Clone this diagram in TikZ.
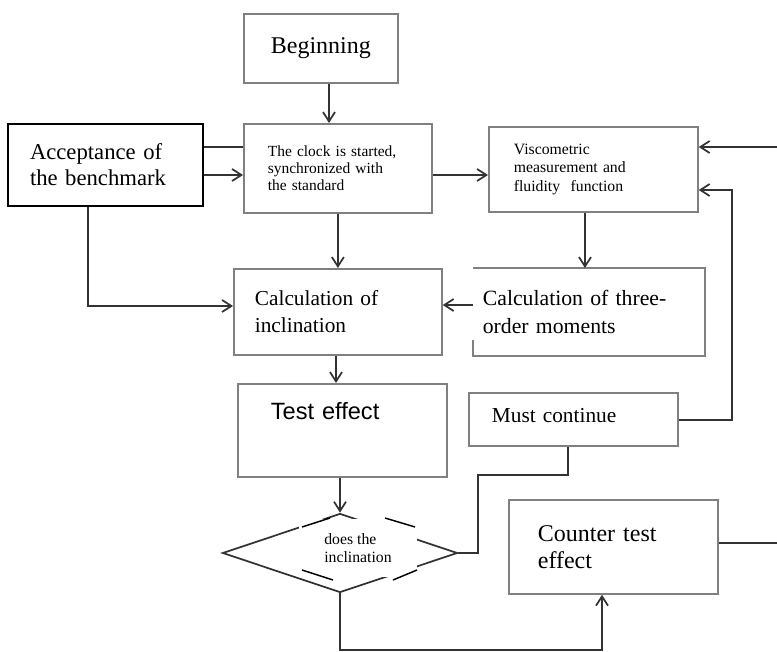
\documentclass[tikz,border=0pt]{standalone}
\usepackage{fontspec}
\setmainfont{Liberation Serif}
\newfontfamily\arialfont{Liberation Sans}
\usetikzlibrary{shapes.geometric, arrows.meta}

\begin{document}
\begin{tikzpicture}[
  x=0.75pt, y=-0.75pt,
  proc_box/.style={rectangle, draw=black!50, line width=1.3pt, fill=white, anchor=north west, align=left, inner ysep=0pt},
  bench_box/.style={proc_box, draw=black, line width=1.5pt},
  decision/.style={diamond, draw=black!80, line width=1.3pt, inner sep=0pt},
  arrow/.style={-{Straight Barb[length=7pt, width=9pt]}, line width=1.3pt, draw=black!80},
  link/.style={line width=1.3pt, draw=black!80}
]
\useasboundingbox (0,0) rectangle (777,652);
\clip (0,0) rectangle (777,652);

% Top row
\node[proc_box, minimum width=115.5pt, minimum height=51.75pt, font=\fontsize{18}{20}\selectfont] (begin) at (243,13) {Beginning};
\node[bench_box, minimum width=146.25pt, minimum height=61.5pt, inner xsep=16.5pt, text width=113.25pt, font=\fontsize{17}{19.5}\selectfont] (bench) at (7,123) {Acceptance of\\the benchmark};
\node[proc_box, minimum width=141pt, minimum height=66.75pt, inner xsep=18pt, text width=105pt, font=\fontsize{11.6}{12.5}\selectfont] (clock) at (243,123) {The clock is started,\\synchronized with\\the standard};
\node[proc_box, minimum width=156.75pt, minimum height=63.75pt, inner xsep=18.75pt, text width=119.25pt, font=\fontsize{11.8}{13.7}\selectfont] (visco) at (488,126) {Viscometric\\measurement and\\fluidity\ \ function};

% Middle row
\node[proc_box, minimum width=156pt, minimum height=64.5pt, inner xsep=15.75pt, text width=124.5pt, font=\fontsize{16}{20}\selectfont] (incl) at (233,268) {Calculation of\\inclination};
\node[proc_box, draw=none, minimum width=172.5pt, minimum height=64.5pt, inner xsep=6.75pt, text width=159pt, font=\fontsize{16.3}{21}\selectfont] (moments) at (473,268) {Calculation of three-\\order moments};
\draw[draw=black!50, line width=1.3pt] ([yshift=12pt]moments.south west) -- (moments.south west) -- (moments.south east) -- (moments.north east) -- (moments.north west);

% Test and decision
\node[proc_box, minimum width=156.75pt, minimum height=69.75pt, inner xsep=24.75pt, text width=107.25pt, text depth=28.5pt, font=\arialfont\fontsize{17.7}{20}\selectfont] (test) at (237,383) {Test effect};
\node[proc_box, minimum width=156.75pt, minimum height=39.75pt, inner xsep=17.25pt, text width=122.25pt, text depth=5.6pt, font=\fontsize{16}{18}\selectfont] (must) at (468,392) {Must continue};
\node[decision, minimum width=176.25pt, minimum height=59.25pt] (dec) at (340,553) {};
\node[fill=white, inner sep=0pt, minimum width=88.5pt, minimum height=43.5pt, align=left, font=\fontsize{11.8}{13}\selectfont] (dectext) at (358,548) {does the\\inclination};
\draw[line width=1.1pt] (302,527) -- (330,518) (385,518) -- (415,527) (302,570) -- (333,580) (393,580) -- (417,570);
\node[proc_box, minimum width=156.75pt, minimum height=70.5pt, inner xsep=21.75pt, text width=113.25pt, font=\fontsize{18}{20}\selectfont] (counter) at (508,499) {Counter test\\effect};

% Arrows
\draw[arrow] (begin.south -| 329,0) -- (clock.north -| 329,0);
\draw[link] (bench.east |- 0,147) -- (clock.west |- 0,147);
\draw[arrow] (bench.east |- 0,175) -- (clock.west |- 0,175);
\draw[arrow] (clock.east |- 0,175) -- (visco.west |- 0,175);
\draw[arrow] (clock.south) -- (incl.north);
\draw[arrow] (bench.south -| 88,0) |- (incl.west |- 0,306);
\draw[arrow] (moments.west |- 0,305) -- (incl.east |- 0,305);
\draw[arrow] (visco.south -| 585,0) -- (moments.north -| 585,0);
\draw[arrow] (incl.south -| 336,0) -- (test.north -| 336,0);
\draw[arrow] (test.south -| dec.north) -- (dec.north);
\draw[link] (dec.east) -| (478,475) -| (must.south -| 568,0);
\draw[arrow] (must.east |- 0,420) -| (732,190) -- (visco.east |- 0,190);
\draw[arrow] (counter.east |- 0,543) -| (790,147) -- (visco.east |- 0,147);
\draw[arrow] (dec.south) |- (602,650) -- (counter.south -| 602,0);

\end{tikzpicture}
\end{document}
